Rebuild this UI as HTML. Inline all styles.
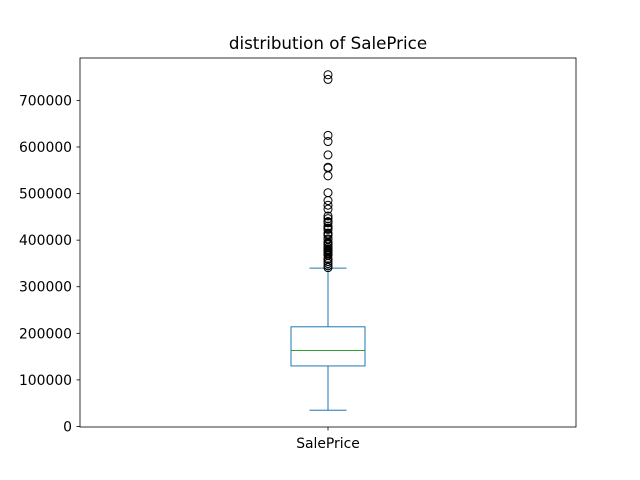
<!DOCTYPE html>
<html><head><meta charset="utf-8"><style>body{margin:0;background:#fff}svg{display:block}</style></head>
<body>
<svg id="chart" width="640" height="480" xmlns="http://www.w3.org/2000/svg" font-family="DejaVu Sans, Liberation Sans, sans-serif">
<text x="328" y="49" text-anchor="middle" font-size="16.7">distribution of SalePrice</text>
<g id="marks"></g>
<rect x="80" y="58" width="496" height="369" fill="none" stroke="#000" stroke-width="0.8"/>
<g id="axes"></g>
</svg>
<script>
const categories = ["SalePrice"];
const boxStats = [34900, 129975, 163000, 214000, 340000]; // lowWhisker, q1, median, q3, highWhisker
const outliers = [755000,745000,625000,611657,582933,556581,555000,538000,501837,485000,475000,466500,451950,446261,440000,438780,437154,430000,426000,424870,423000,415298,412500,410000,402861,402000,394617,394432,392500,392000,390000,385000,384000,381000,380000,378500,377500,377426,375000,372500,372402,370878,369900,367294,360000,359100,354000,350000,345000,341000];
const yTicks = [0,100000,200000,300000,400000,500000,600000,700000];

const NS="http://www.w3.org/2000/svg";
const allVals=[...boxStats,...outliers];
const dmin=Math.min(...allVals), dmax=Math.max(...allVals), pad=(dmax-dmin)*0.05;
const y0=dmin-pad, y1=dmax+pad;
const yS=v=>427-(v-y0)/(y1-y0)*369;
const xS=i=>80+496*(i+0.5)/categories.length;
function mk(tag,attrs,parent){const e=document.createElementNS(NS,tag);for(const k in attrs)e.setAttribute(k,attrs[k]);parent.appendChild(e);return e;}
const marks=document.getElementById('marks'), axes=document.getElementById('axes');
const C="#1f77b4";
categories.forEach((c,i)=>{
  const cx=xS(i), hw=37, cw=18.5;
  const [lo,q1,md,q3,hi]=boxStats;
  let e;
  e=mk('line',{x1:cx,x2:cx,y1:yS(q1),y2:yS(lo),stroke:C},marks);
  
  
  e=mk('line',{x1:cx,x2:cx,y1:yS(q3),y2:yS(hi),stroke:C},marks);
  
  
  e=mk('line',{x1:cx-cw,x2:cx+cw,y1:yS(lo),y2:yS(lo),stroke:C},marks);
  
  
  e=mk('line',{x1:cx-cw,x2:cx+cw,y1:yS(hi),y2:yS(hi),stroke:C},marks);
  
  
  e=mk('rect',{x:cx-hw,y:yS(q3),width:2*hw,height:yS(q1)-yS(q3),fill:'none',stroke:C},marks);
  
  
  e=mk('line',{x1:cx-hw,x2:cx+hw,y1:yS(md),y2:yS(md),stroke:'#2ca02c'},marks);
  
  
  outliers.forEach(v=>{
    const o=mk('circle',{cx:cx,cy:yS(v),r:4,fill:'none',stroke:'#000','stroke-width':1},marks);
    
    
  });
  const t=mk('text',{x:cx,y:448,'text-anchor':'middle','font-size':13.9},axes);
  t.textContent=c;
  
  
  const tk=mk('line',{x1:cx,x2:cx,y1:427,y2:430.5,stroke:'#000','stroke-width':0.8},axes);
  
  
});
yTicks.forEach(v=>{
  const y=yS(v);
  const l=mk('line',{x1:76.5,x2:80,y1:y,y2:y,stroke:'#000','stroke-width':0.8},axes);
  
  
  const t=mk('text',{x:72,y:y+5,'text-anchor':'end','font-size':13.9},axes);
  t.textContent=v;
  
  
});
</script>
</body></html>
